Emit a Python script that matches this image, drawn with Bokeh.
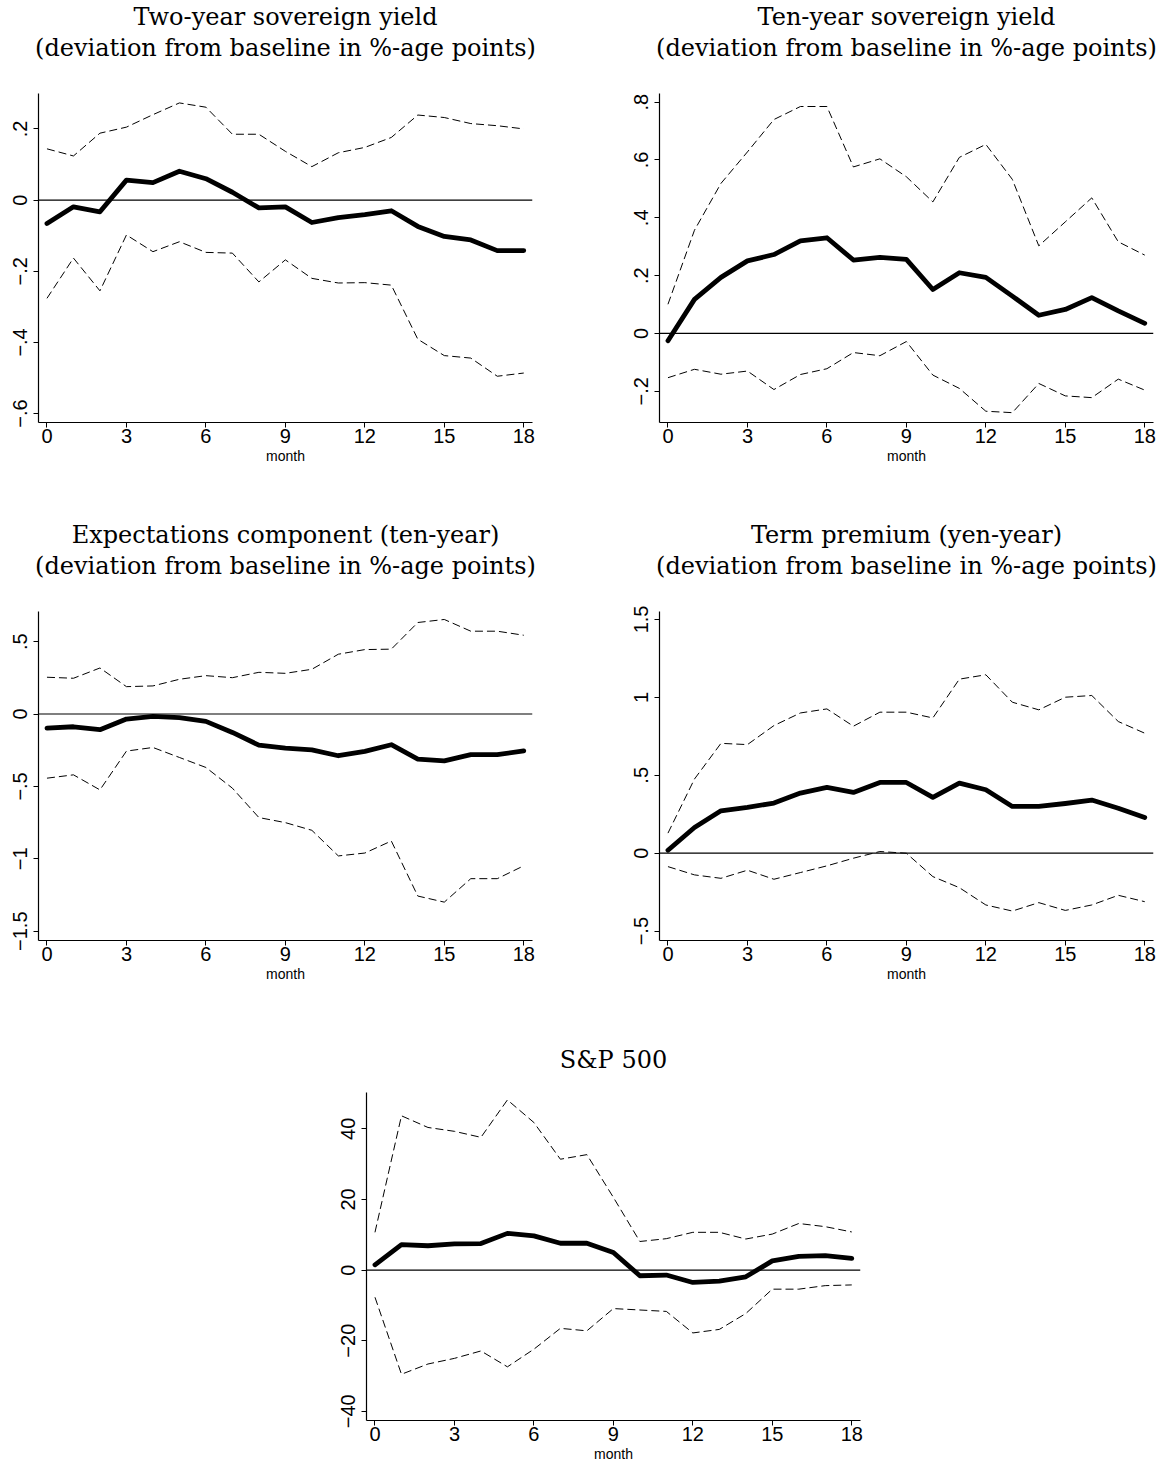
from bokeh.plotting import figure
from bokeh.models import Title, Span, FixedTicker, Spacer, Range1d
from bokeh.layouts import column, row
from bokeh.embed import file_html
from bokeh.resources import INLINE

months = list(range(19))
x_ticks = [0, 3, 6, 9, 12, 15, 18]

# Two-year sovereign yield
two_mid = [-0.066, -0.019, -0.033, 0.056, 0.049, 0.081, 0.060, 0.022, -0.022, -0.019,
           -0.063, -0.049, -0.041, -0.030, -0.074, -0.102, -0.112, -0.142, -0.142]
two_hi = [0.144, 0.124, 0.188, 0.205, 0.240, 0.273, 0.261, 0.185, 0.185, 0.137,
          0.094, 0.133, 0.148, 0.176, 0.239, 0.232, 0.215, 0.209, 0.200]
two_lo = [-0.276, -0.163, -0.255, -0.098, -0.145, -0.117, -0.147, -0.149, -0.230, -0.168,
          -0.220, -0.233, -0.232, -0.239, -0.391, -0.437, -0.444, -0.495, -0.486]

# Ten-year sovereign yield
ten_mid = [-0.025, 0.118, 0.194, 0.251, 0.273, 0.320, 0.331, 0.254, 0.263, 0.256,
           0.152, 0.210, 0.194, 0.129, 0.063, 0.083, 0.124, 0.078, 0.035]
ten_hi = [0.101, 0.357, 0.519, 0.628, 0.740, 0.785, 0.785, 0.576, 0.604, 0.542,
          0.455, 0.609, 0.654, 0.533, 0.303, 0.386, 0.469, 0.317, 0.271]
ten_lo = [-0.153, -0.124, -0.141, -0.130, -0.194, -0.142, -0.122, -0.066, -0.077, -0.028,
          -0.144, -0.190, -0.269, -0.274, -0.173, -0.216, -0.222, -0.158, -0.196]

# Expectations component (ten-year)
exp_mid = [-0.097, -0.088, -0.108, -0.035, -0.016, -0.025, -0.051, -0.127, -0.215, -0.235,
           -0.247, -0.288, -0.258, -0.212, -0.311, -0.323, -0.281, -0.281, -0.254]
exp_hi = [0.254, 0.247, 0.318, 0.189, 0.194, 0.240, 0.265, 0.251, 0.288, 0.281,
          0.309, 0.413, 0.445, 0.448, 0.632, 0.653, 0.572, 0.572, 0.544]
exp_lo = [-0.443, -0.420, -0.524, -0.256, -0.231, -0.300, -0.369, -0.512, -0.715, -0.750,
          -0.803, -0.980, -0.960, -0.877, -1.257, -1.299, -1.137, -1.137, -1.048]

# Term premium
tp_mid = [0.019, 0.165, 0.272, 0.294, 0.322, 0.386, 0.422, 0.390, 0.454, 0.454,
          0.358, 0.450, 0.407, 0.300, 0.300, 0.319, 0.341, 0.289, 0.229]
tp_hi = [0.129, 0.476, 0.705, 0.697, 0.819, 0.900, 0.926, 0.815, 0.905, 0.905,
         0.868, 1.117, 1.145, 0.969, 0.920, 1.001, 1.012, 0.845, 0.770]
tp_lo = [-0.086, -0.139, -0.161, -0.109, -0.167, -0.124, -0.081, -0.032, 0.011, 0.000,
         -0.150, -0.221, -0.332, -0.371, -0.317, -0.367, -0.332, -0.270, -0.311]

# S&P 500
sp_mid = [1.5, 7.2, 6.9, 7.4, 7.5, 10.4, 9.7, 7.6, 7.6, 5.0,
          -1.6, -1.4, -3.5, -3.1, -1.9, 2.6, 3.9, 4.1, 3.3]
sp_hi = [10.7, 43.7, 40.4, 39.3, 37.6, 48.2, 41.8, 31.4, 32.7, 20.6,
         8.1, 8.9, 10.7, 10.7, 8.8, 10.2, 13.2, 12.3, 10.8]
sp_lo = [-7.7, -29.5, -26.6, -25.0, -22.9, -27.4, -22.4, -16.5, -17.2, -10.9,
         -11.3, -11.7, -17.8, -16.8, -12.3, -5.4, -5.4, -4.4, -4.2]

TITLE_FONT = "DejaVu Serif"
TICK_FONT = "Liberation Sans"


def make_panel(titles, gap, mid, lo, hi, yticks, ylabels, yr, fh, top, bottom, left, right):
    p = figure(frame_width=494, frame_height=fh, output_backend="svg",
               toolbar_location=None, x_range=Range1d(-0.32, 18.33),
               y_range=Range1d(*yr),
               min_border_left=left, min_border_right=right,
               min_border_top=top, min_border_bottom=bottom)
    p.title = None
    p.outline_line_color = None
    p.xgrid.visible = False
    p.ygrid.visible = False
    p.background_fill_color = "white"
    p.border_fill_color = "white"

    p.add_layout(Span(location=0, dimension="width", line_color="black", line_width=1.2))
    p.line(months, hi, line_color="black", line_width=1, line_dash="8 4")
    p.line(months, lo, line_color="black", line_width=1, line_dash="8 4")
    p.line(months, mid, line_color="black", line_width=4.8, line_join="round", line_cap="round")

    # spacer between frame and titles (first added sits closest to the frame)
    p.add_layout(Title(text=" ", text_font_size="2px", standoff=gap), "above")
    for t in reversed(titles):
        tt = Title(text=t, align="center", text_font=TITLE_FONT, text_font_size="24px",
                   text_font_style="normal", text_color="black", standoff=1)
        p.add_layout(tt, "above")

    xa = p.xaxis[0]
    xa.ticker = FixedTicker(ticks=x_ticks)
    xa.minor_tick_line_color = None
    xa.major_tick_in = 0
    xa.major_tick_out = 5
    xa.major_label_standoff = 1
    xa.major_label_text_font = TICK_FONT
    xa.major_label_text_font_size = "20px"
    xa.major_label_text_color = "black"
    xa.axis_line_color = "black"
    xa.axis_line_width = 1.2
    xa.axis_label = "month"
    xa.axis_label_text_font = TICK_FONT
    xa.axis_label_text_font_size = "14px"
    xa.axis_label_text_font_style = "normal"
    xa.axis_label_text_color = "black"
    xa.axis_label_standoff = 2

    ya = p.yaxis[0]
    ya.ticker = FixedTicker(ticks=yticks)
    ya.major_label_overrides = dict(zip(yticks, ylabels))
    ya.minor_tick_line_color = None
    ya.major_tick_in = 0
    ya.major_tick_out = 5
    ya.major_label_standoff = 6
    ya.major_label_orientation = "vertical"
    ya.major_label_text_font = TICK_FONT
    ya.major_label_text_font_size = "20px"
    ya.major_label_text_color = "black"
    ya.axis_line_color = "black"
    ya.axis_line_width = 1.2
    return p


SUB = "(deviation from baseline in %-age points)"
p1 = make_panel(["Two-year sovereign yield", SUB], 27,
                two_mid, two_lo, two_hi,
                [0.2, 0, -0.2, -0.4, -0.6], [".2", "0", "\u2212.2", "\u2212.4", "\u2212.6"],
                (-0.625, 0.2995), 329, 93, 96, 38, 97)
p2 = make_panel(["Ten-year sovereign yield", SUB], 27,
                ten_mid, ten_lo, ten_hi,
                [0.8, 0.6, 0.4, 0.2, 0, -0.2], [".8", ".6", ".4", ".2", "0", "\u2212.2"],
                (-0.308, 0.83), 329, 93, 96, 30, 4)
p3 = make_panel(["Expectations component (ten-year)", SUB], 27,
                exp_mid, exp_lo, exp_hi,
                [0.5, 0, -0.5, -1, -1.5], [".5", "0", "\u2212.5", "\u22121", "\u22121.5"],
                (-1.564, 0.708), 329, 93, 96, 38, 97)
p4 = make_panel(["Term premium (yen-year)", SUB], 27,
                tp_mid, tp_lo, tp_hi,
                [1.5, 1, 0.5, 0, -0.5], ["1.5", "1", ".5", "0", "\u2212.5"],
                (-0.56, 1.551), 329, 93, 96, 30, 4)
p5 = make_panel(["S&P 500"], 14,
                sp_mid, sp_lo, sp_hi,
                [40, 20, 0, -20, -40], ["40", "20", "0", "\u221220", "\u221240"],
                (-42.6, 50.3), 328, 56, 38, 30, 4)

layout = column(row(p1, p2), row(p3, p4), row(Spacer(width=336, height=10), p5))

with open("out.html", "w") as f:
    f.write(file_html(layout, INLINE))
